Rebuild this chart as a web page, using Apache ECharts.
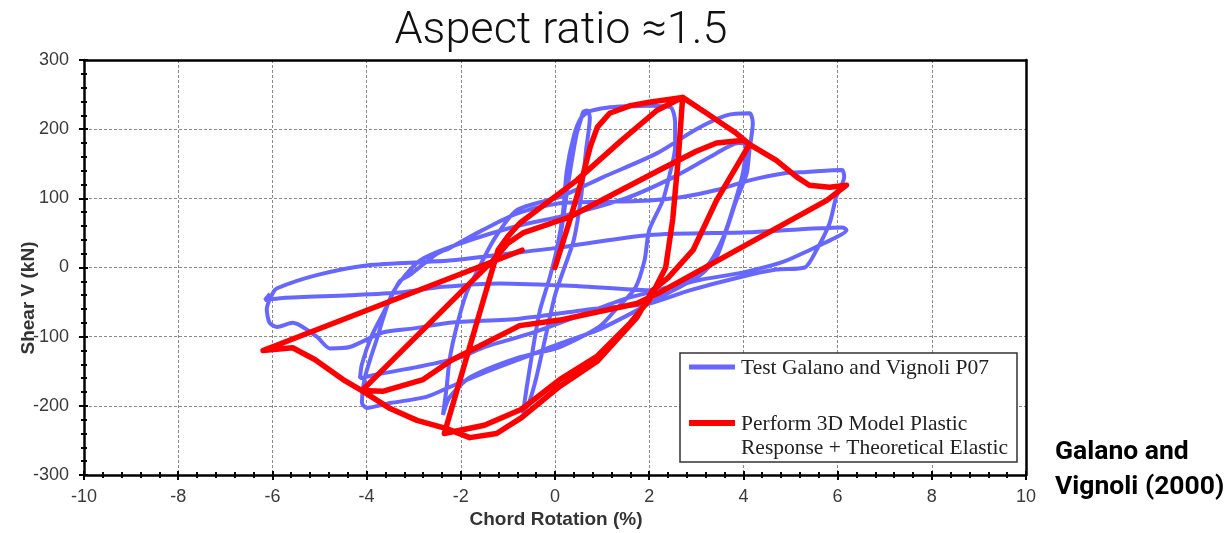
<!DOCTYPE html>
<html>
<head>
<meta charset="utf-8">
<script src="https://cdn.jsdelivr.net/npm/echarts@6/dist/echarts.min.js"></script>
<style>
  html, body { margin: 0; background: #fff; }
  #chart { width: 1229px; height: 533px; }
</style>
</head>
<body>
<div id="chart"></div>
<script>
// axis ranges / ticks
const rotationRange = [-10, 10, 2];
const shearRange = [-300, 300, 100];

// Test Galano and Vignoli P07 (blue), [chord rotation %, shear kN]
const testCycle1 = [
  [0, 0], [0.15, 60], [0.3, 130], [0.45, 190], [0.55, 214], [0.6, 225], [0.68, 227], [0.74, 217],
  [0.66, 170], [0.55, 100], [0.4, 40], [0.2, 0], [0, -40], [-0.2, -100], [-0.4, -160], [-0.55, -195],
  [-0.68, -211], [-0.6, -173], [-0.45, -110], [-0.32, -62], [-0.11, -14], [0.05, 30], [0.17, 80],
  [0.25, 140], [0.4, 190], [0.55, 216]
];
const testCycle2 = [
  [0.74, 226], [1.1, 231], [1.52, 233], [2.0, 234], [2.45, 232], [2.55, 210], [2.55, 174], [2.44, 136],
  [2.29, 97], [2.0, 54], [1.9, 10], [1.7, -30], [1.3, -60], [0.95, -85], [0.1, -115], [-0.81, -131],
  [-1.81, -159], [-2.24, -188], [-2.38, -213], [-2.3, -173], [-2.24, -134], [-2.09, -86], [-1.88, -37],
  [-1.67, -8], [-1.3, 40], [-0.81, 83], [0.1, 102], [1.0, 130], [2.16, 165], [3.0, 200], [3.64, 220]
];
const testCycle3 = [
  [4.13, 223], [4.2, 209], [4.13, 170], [4.07, 136], [3.85, 97], [3.64, 54], [3.43, 15], [3.1, -10],
  [2.6, -30], [2.22, -43], [1.74, -62], [0.89, -91], [0.1, -110], [-0.81, -134], [-1.54, -153],
  [-2.24, -173], [-2.73, -187], [-3.5, -196], [-4.0, -203], [-4.1, -195], [-4.04, -160], [-3.79, -105],
  [-3.45, -37], [-2.87, 10]
];
const testCycle3b = [
  [-2.0, 35], [-0.8, 60], [0.2, 75], [1.5, 100], [2.5, 130], [3.3, 160], [3.9, 180], [4.05, 178],
  [4.0, 140], [3.8, 90], [3.55, 40], [3.2, 0], [2.6, -25], [1.5, -45], [0.5, -70], [-0.5, -95],
  [-1.5, -115], [-2.02, -130], [-2.93, -144], [-3.66, -153], [-4.14, -160], [-4.1, -140], [-3.9, -100],
  [-3.6, -60], [-3.3, -20], [-3.09, -11], [-2.5, 20]
];
const testCycle4 = [
  [-2.24, 28], [-1.54, 54], [-0.81, 78], [0.1, 93], [1.0, 95], [2.0, 97], [2.71, 102], [3.43, 112],
  [4.13, 126], [4.84, 136], [5.34, 138],
  [6.09, 141], [6.14, 131], [5.97, 102], [5.83, 64], [5.55, 25], [5.3, 0], [4.7, -3], [3.92, -14],
  [2.86, -33], [2.0, -52], [0.8, -60], [-0.75, -74], [-2.24, -80], [-3.0, -88], [-3.66, -94],
  [-4.36, -115], [-4.78, -117], [-5.06, -100], [-5.57, -80], [-5.9, -86], [-6.06, -80], [-6.12, -60],
  [-6.0, -38], [-5.9, -30], [-5.06, -11], [-4.0, 3], [-2.24, 10], [-1.0, 20], [0, 28], [2.0, 47]
];
const testCycle5 = [
  [4.13, 51], [6.1, 58], [6.19, 54], [5.98, 44], [5.4, 25], [4.84, 8], [4.0, -7], [3.07, -18],
  [2.0, -33], [0.5, -27], [-1.17, -23], [-2.38, -28], [-3.3, -36], [-4.36, -40], [-5.78, -44],
  [-6.16, -47], [-6.05, -38]
];

// Perform 3D model (red)
const modelLoading = [
  [0, 0], [0.3, 65], [0.57, 127], [0.75, 175], [0.9, 203], [1.16, 223], [1.6, 234], [2.0, 239], [2.71, 246]
];
const modelCycle1 = [
  [2.62, 160], [2.5, 70], [2.35, 0], [2.0, -47], [1.6, -80], [0.9, -128], [0.1, -162], [-0.71, -205],
  [-1.5, -228], [-2.35, -240], [-1.21, 25], [-1.0, 45], [-0.75, 64], [0.46, 126], [1.4, 183],
  [2.16, 227], [2.71, 246], [3.22, 223], [3.85, 194], [4.13, 178]
];
const modelCycle2 = [
  [3.43, 97], [2.93, 25], [2.4, -15], [2.07, -33], [1.74, -72], [0.89, -136], [0.1, -172],
  [-0.71, -217], [-1.24, -240], [-1.81, -246], [-2.3, -233], [-2.93, -221], [-3.5, -204], [-4.1, -178],
  [-2.02, -37], [-1.32, 10], [-1.0, 35], [-0.68, 50], [0.31, 73], [2.22, 141], [3.0, 168], [3.43, 180],
  [4.0, 184], [4.13, 178], [4.7, 155], [5.13, 131], [5.4, 119], [5.83, 116], [6.19, 119]
];
const modelCycle3 = [
  [5.77, 97], [2.2, -37], [1.74, -52], [0.1, -76], [-0.75, -84], [-2.2, -134], [-2.8, -162],
  [-3.66, -179], [-4.1, -178], [-4.5, -162], [-5.1, -133], [-5.57, -116], [-6.2, -120], [-0.7, 25]
];

const testData = [...testCycle1, ...testCycle2, ...testCycle3, ...testCycle3b, ...testCycle4, ...testCycle5];
const modelData = [...modelLoading, ...modelCycle1, ...modelCycle2, ...modelCycle3];

const legendLabels = ["Test Galano and Vignoli P07", "Perform 3D Model Plastic", "Response + Theoretical Elastic"];

const blue = "#6767ff";
const red = "#ff0000";
const tickFont = { fontFamily: "Liberation Sans, Arial, sans-serif", fontSize: 18, color: "#3a3a3a" };

function valueAxis(range, extra) {
  return Object.assign({
    type: "value",
    min: range[0],
    max: range[1],
    interval: range[2]
  }, extra);
}

const chart = echarts.init(document.getElementById("chart"));

chart.setOption({
  animation: false,
  grid: { left: 84, top: 60, width: 942, height: 415 },
  xAxis: [
    valueAxis(rotationRange, {
      position: "bottom",
      axisLine: { onZero: false, lineStyle: { color: "#000", width: 2.5 } },
      axisTick: { length: 5, lineStyle: { color: "#000", width: 2 } },
      minorTick: { show: true, splitNumber: 5, length: 3, lineStyle: { color: "#000", width: 2 } },
      axisLabel: Object.assign({ margin: 13 }, tickFont),
      splitLine: { show: true, lineStyle: { color: "#8a8a8a", width: 1, type: [3, 2] } }
    }),
    valueAxis(rotationRange, {
      position: "bottom",
      axisLine: { show: false, onZero: false },
      axisTick: { inside: true, length: 4, lineStyle: { color: "#000", width: 2 } },
      minorTick: { show: true, splitNumber: 5, length: 3, lineStyle: { color: "#000", width: 2 } },
      axisLabel: { show: false },
      splitLine: { show: false }
    }),
    valueAxis(rotationRange, {
      position: "top",
      axisLine: { onZero: false, lineStyle: { color: "#000", width: 2.5 } },
      axisTick: { show: false },
      axisLabel: { show: false },
      splitLine: { show: false }
    })
  ],
  yAxis: [
    valueAxis(shearRange, {
      position: "left",
      axisLine: { onZero: false, lineStyle: { color: "#000", width: 2.5 } },
      axisTick: { length: 5, lineStyle: { color: "#000", width: 2 } },
      minorTick: { show: true, splitNumber: 5, length: 3, lineStyle: { color: "#000", width: 2 } },
      axisLabel: Object.assign({ margin: 15 }, tickFont),
      splitLine: { show: true, lineStyle: { color: "#8a8a8a", width: 1, type: [3, 2] } }
    }),
    valueAxis(shearRange, {
      position: "left",
      axisLine: { show: false, onZero: false },
      axisTick: { inside: true, length: 4, lineStyle: { color: "#000", width: 2 } },
      minorTick: { show: true, splitNumber: 5, length: 3, lineStyle: { color: "#000", width: 2 } },
      axisLabel: { show: false },
      splitLine: { show: false }
    }),
    valueAxis(shearRange, {
      position: "right",
      axisLine: { onZero: false, lineStyle: { color: "#000", width: 2.5 } },
      axisTick: { show: false },
      axisLabel: { show: false },
      splitLine: { show: false }
    })
  ],
  series: [
    {
      name: legendLabels[0],
      type: "line",
      data: testData,
      showSymbol: false,
      smooth: 0.25,
      lineStyle: { color: blue, width: 4 },
      z: 3
    },
    {
      name: legendLabels[1],
      type: "line",
      data: modelData,
      showSymbol: false,
      smooth: false,
      lineStyle: { color: red, width: 5.5, join: "round", cap: "round" },
      z: 4
    }
  ],
  graphic: [
    {
      type: "text", x: 561, y: 32, z: 10,
      style: { text: "Aspect ratio \u22481.5", fontFamily: "Roboto", fontWeight: 300, fontSize: 45,
        fill: "#111", textAlign: "center", textVerticalAlign: "middle" }
    },
    {
      type: "text", x: 556, y: 520, z: 10,
      style: { text: "Chord Rotation (%)", fontFamily: "Liberation Sans, Arial", fontWeight: "bold", fontSize: 19,
        fill: "#333", textAlign: "center", textVerticalAlign: "middle" }
    },
    {
      type: "text", x: 29, y: 298, rotation: Math.PI / 2, z: 10,
      style: { text: "Shear V (kN)", fontFamily: "Liberation Sans, Arial", fontWeight: "bold", fontSize: 19,
        fill: "#333", textAlign: "center", textVerticalAlign: "middle" }
    },
    {
      type: "rect", z: 20,
      shape: { x: 680, y: 353, width: 337, height: 109 },
      style: { fill: "#fff", stroke: "#333", lineWidth: 1.5 }
    },
    {
      type: "line", z: 21,
      shape: { x1: 689, y1: 367, x2: 735, y2: 367 },
      style: { stroke: blue, lineWidth: 5 }
    },
    {
      type: "line", z: 21,
      shape: { x1: 689, y1: 423, x2: 735, y2: 423 },
      style: { stroke: red, lineWidth: 6 }
    },
    {
      type: "text", x: 741, y: 368, z: 21,
      style: { text: legendLabels[0], fontFamily: "Liberation Serif", fontSize: 21.5, fill: "#222",
        textVerticalAlign: "middle" }
    },
    {
      type: "text", x: 741, y: 424, z: 21,
      style: { text: legendLabels[1], fontFamily: "Liberation Serif", fontSize: 21.5, fill: "#222",
        textVerticalAlign: "middle" }
    },
    {
      type: "text", x: 741, y: 448, z: 21,
      style: { text: legendLabels[2], fontFamily: "Liberation Serif", fontSize: 21.5, fill: "#222",
        textVerticalAlign: "middle" }
    },
    {
      type: "text", x: 1055, y: 452, z: 10,
      style: { text: "Galano and", fontFamily: "Roboto", fontWeight: "bold", fontSize: 26.5, fill: "#000",
        textVerticalAlign: "middle" }
    },
    {
      type: "text", x: 1055, y: 487, z: 10,
      style: { text: "Vignoli (2000)", fontFamily: "Roboto", fontWeight: "bold", fontSize: 26.5, fill: "#000",
        textVerticalAlign: "middle" }
    }
  ]
});
</script>
</body>
</html>
